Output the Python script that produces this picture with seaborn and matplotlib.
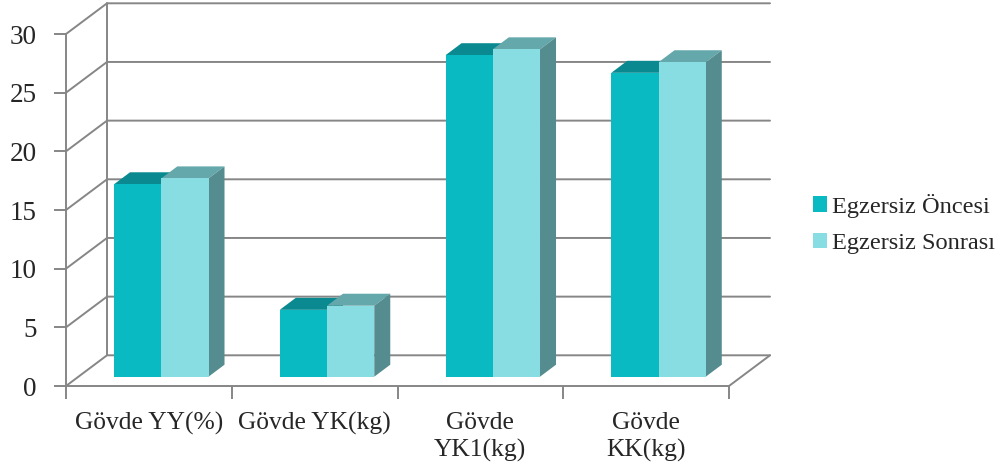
import numpy as np
import pandas as pd
import matplotlib
matplotlib.use("Agg")
import matplotlib.pyplot as plt
import seaborn as sns
from matplotlib.patches import Polygon, Patch

# ---- data ----
categories = ["Gövde YY(%)", "Gövde YK(kg)", "Gövde\nYK1(kg)", "Gövde\nKK(kg)"]
series_names = ["Egzersiz Öncesi", "Egzersiz Sonrası"]
oncesi = [16.4, 5.7, 27.4, 25.9]
sonrasi = [16.9, 6.05, 27.9, 26.8]
yticks = [0, 5, 10, 15, 20, 25, 30]

front_colors = ["#0ABAC2", "#88DDE3"]
top_colors = ["#0A8A90", "#64A8AB"]
side_colors = ["#08878C", "#548C8F"]
grid_color = "#868686"

df = pd.DataFrame({
    "cat": categories * 2,
    "series": [series_names[0]] * 4 + [series_names[1]] * 4,
    "value": oncesi + sonrasi,
})

sns.set_theme(style="white")
plt.rcParams["font.family"] = ["Liberation Serif", "DejaVu Serif"]

W, H = 1003, 469
fig = plt.figure(figsize=(W / 100, H / 100), dpi=100)

# front plane axes (for axis lines, ticks and labels)
fx0, fx1, fy0, fy1 = 66, 729, 386, 34
axf = fig.add_axes([fx0 / W, (H - fy0) / H, (fx1 - fx0) / W, (fy0 - fy1) / H])
# bar plane axes (shifted into depth)
shx, shy = 12.4, 9.3
axb = fig.add_axes([(fx0 + shx) / W, (H - fy0 + shy) / H, (fx1 - fx0) / W, (fy0 - fy1) / H])

for a in (axf, axb):
    a.set_xlim(-0.5, 3.5)
    a.set_ylim(0, 30)
    a.patch.set_alpha(0)
axf.set_zorder(0)
axb.set_zorder(1)

pxx = (fx1 - fx0) / 4.0     # px per category
pxy = (fy0 - fy1) / 30.0    # px per unit

# walls and gridlines (back wall offset)
dxb, dyb = 41 / pxx, 30.7 / pxy
for y in yticks:
    axf.plot([-0.5, -0.5 + dxb, 3.5 + dxb], [y, y + dyb, y + dyb],
             color=grid_color, lw=1.4, clip_on=False, zorder=1)
axf.plot([-0.5 + dxb, -0.5 + dxb], [dyb, 30 + dyb], color=grid_color, lw=1.4,
         clip_on=False, zorder=1)
axf.plot([3.5 + dxb, 3.5], [dyb, 0], color=grid_color, lw=1.4, clip_on=False, zorder=1)

for s in ["top", "right"]:
    axf.spines[s].set_visible(False)
for s in ["left", "bottom"]:
    axf.spines[s].set_color(grid_color)
    axf.spines[s].set_linewidth(1.4)

axf.set_yticks(yticks)
axf.set_yticklabels([str(v) for v in yticks], fontsize=19.5)
axf.set_xticks([0, 1, 2, 3])
axf.set_xticklabels(categories, fontsize=18.4, linespacing=1.25)
axf.set_xticks([-0.5, 0.5, 1.5, 2.5, 3.5], minor=True)
axf.tick_params(axis="x", which="major", length=0, pad=19)
axf.tick_params(axis="x", which="minor", length=9, width=1.4, color=grid_color, bottom=True)
axf.tick_params(axis="y", length=9, width=1.4, color=grid_color, pad=12, left=True)
axf.set_xlabel("")
axf.set_ylabel("")

# bars
sns.barplot(data=df, x="cat", y="value", hue="series", palette=front_colors,
            width=0.57, ax=axb, legend=False, saturation=1, linewidth=0,
            order=categories, hue_order=series_names)
axb.set_xlim(-0.5, 3.5)
axb.set_ylim(0, 30)
axb.axis("off")

ddx, ddy = 16 / pxx, 12 / pxy
bars = [p for p in axb.patches if p.get_height() > 0]
bars_sorted = sorted(bars, key=lambda p: p.get_x())
for p in bars_sorted:
    x0, w, h = p.get_x(), p.get_width(), p.get_height()
    fc = np.array(p.get_facecolor()[:3])
    idx = 0 if np.allclose(fc, matplotlib.colors.to_rgb(front_colors[0]), atol=0.02) else 1
    z = 2 + x0
    top = Polygon([(x0, h), (x0 + w, h), (x0 + w + ddx, h + ddy), (x0 + ddx, h + ddy)],
                  closed=True, facecolor=top_colors[idx], edgecolor="none", zorder=z, clip_on=False)
    side = Polygon([(x0 + w, 0), (x0 + w + ddx, ddy), (x0 + w + ddx, h + ddy), (x0 + w, h)],
                   closed=True, facecolor=side_colors[idx], edgecolor="none", zorder=z, clip_on=False)
    axb.add_patch(top)
    axb.add_patch(side)
    p.set_zorder(z + 0.01)
    p.set_clip_on(False)

# legend
handles = [Patch(facecolor=c, edgecolor="none") for c in front_colors]
fig.legend(handles, series_names, loc="center left", bbox_to_anchor=(803 / W, 1 - 224 / H),
           frameon=False, fontsize=17.6, handlelength=0.6, handleheight=0.6,
           handletextpad=0.2, labelspacing=0.62, borderaxespad=0)

fig.savefig("out.png", dpi=100)
